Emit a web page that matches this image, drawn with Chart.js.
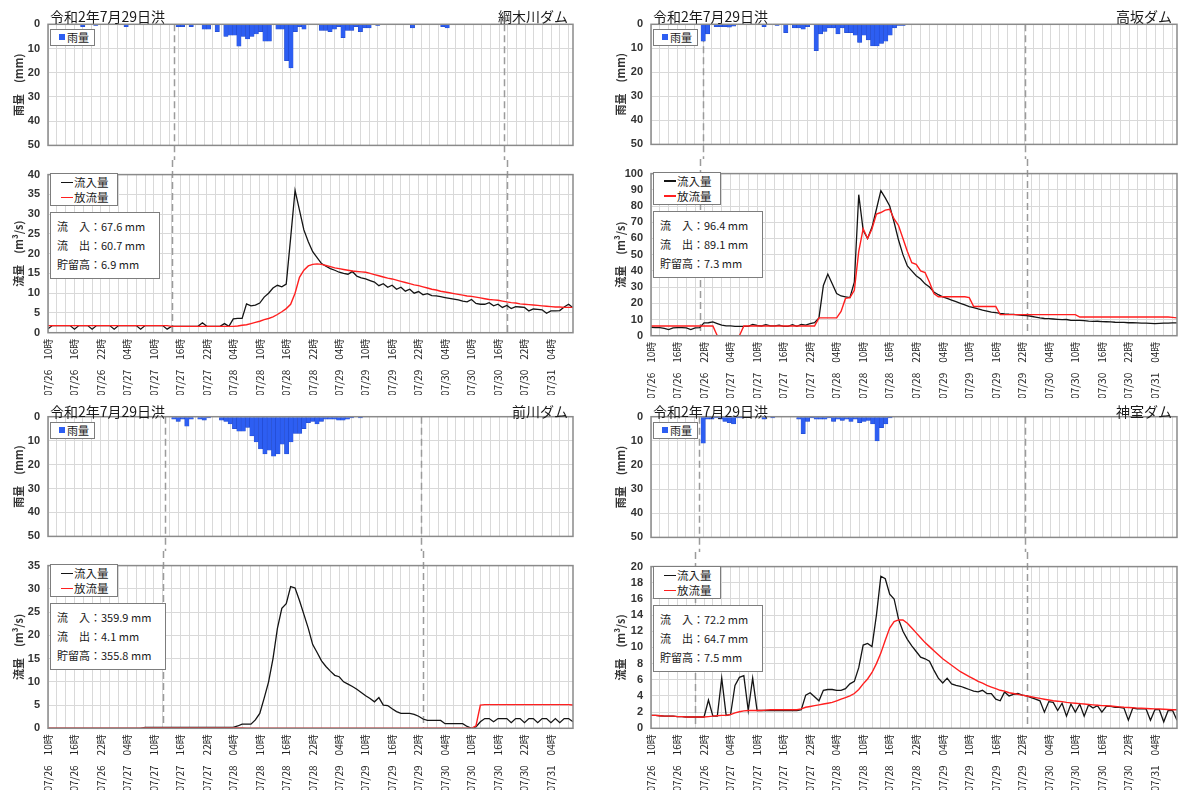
<!DOCTYPE html>
<html>
<head>
<meta charset="utf-8">
<script src="https://cdn.jsdelivr.net/npm/chart.js@4.4.1/dist/chart.umd.min.js"></script>
<style>
  body { margin: 0; width: 1203px; height: 791px; background: #fff; position: relative; overflow: hidden;
         font-family: 'Noto Sans CJK JP', sans-serif; color: #1a1a1a; }
  canvas { position: absolute; }
  .ttl { position: absolute; font-size: 14px; line-height: 14px; white-space: nowrap; z-index: 2; }
  .box { position: absolute; background: #fff; border: 1.5px solid #7d7d7d; box-sizing: border-box;
         white-space: nowrap; z-index: 2; font-size: 11px; line-height: 15px; }
  .sq { display: inline-block; width: 6px; height: 6px; background: #2d5ef2; margin-right: 2px; vertical-align: 2px; }
  .ln { display: inline-block; width: 12px; height: 1.5px; margin-right: 1px; vertical-align: 4px; }
  .stat { line-height: 19px; font-size: 11px; }
</style>
</head>
<body>
<script>
"use strict";

const HOURS = 120;   // 07/26 10時 .. 07/31 09時, hourly

const tickLabels = [
  '07/26　10時', '07/26　16時', '07/26　22時', '07/27　04時', '07/27　10時',
  '07/27　16時', '07/27　22時', '07/28　04時', '07/28　10時', '07/28　16時',
  '07/28　22時', '07/29　04時', '07/29　10時', '07/29　16時', '07/29　22時',
  '07/30　04時', '07/30　10時', '07/30　16時', '07/30　22時', '07/31　04時'
];

// 綱木川ダム
const rainTsunagi = [
  0, 0, 0, 0, 0, 0, 0, 1, 0, 0, 0.5, 0,
  0, 0, 0, 0, 0, 1, 0, 0, 0, 0, 0, 0,
  0, 0, 0, 0, 0, 1, 1, 0, 1, 0, 0, 2,
  2, 0, 3, 0, 5, 4.5, 4.5, 9, 5, 6, 5, 4,
  3, 7, 7, 0, 2, 2, 15, 18, 3, 1, 2, 0,
  0, 0, 2.5, 2.5, 3, 2, 1, 5.5, 2.5, 2.5, 1, 3,
  1.5, 1.5, 0, 0.5, 0, 0, 0, 0, 0, 0, 0, 1.5,
  0, 0, 0, 0, 0, 0, 1, 1.5, 0, 0, 0, 0,
  0, 0, 0, 0, 0, 0, 0, 0, 0, 0, 0, 0,
  0, 0, 0, 0, 0, 0, 0, 0, 0, 0, 0, 0
];
const inflowTsunagi = [
  1.0, 1.8, 1.8, 1.8, 1.8, 1.8, 0.9, 1.8, 1.8, 1.8, 0.9, 1.8,
  1.8, 1.8, 1.8, 0.9, 1.8, 1.8, 1.8, 1.8, 1.8, 0.9, 1.8, 1.8,
  1.8, 1.8, 1.8, 0.9, 1.6, 1.6, 1.6, 1.6, 1.6, 1.6, 1.6, 2.5,
  1.6, 1.6, 1.6, 1.6, 2.3, 1.6, 3.5, 3.6, 3.6, 7.3, 6.8, 7.0,
  7.5, 9.0, 10.0, 11.3, 12.0, 11.6, 12.3, 24, 36, 31, 26, 23,
  20.5, 19, 17.5, 16.8, 16.2, 15.8, 15.3, 15.0, 14.8, 15.5, 14.3, 13.9,
  13.6, 13.2, 12.8, 11.9, 12.4, 11.5, 12.0, 11.0, 11.5, 10.5, 11.0, 10.0,
  10.4, 9.6, 9.9, 9.4, 9.3, 9.1, 8.9, 8.7, 8.5, 8.3, 8.0, 7.8,
  8.4, 7.4, 7.2, 7.2, 7.6, 6.8, 7.2, 6.4, 6.9, 6.1, 6.6, 6.5,
  6.4, 5.5, 6.0, 5.9, 5.8, 4.9, 5.5, 5.5, 5.6, 6.5, 7.2, 6.3
];
const outflowTsunagi = [
  1.8, 1.8, 1.8, 1.8, 1.8, 1.8, 1.8, 1.8, 1.8, 1.8, 1.8, 1.8,
  1.8, 1.8, 1.8, 1.8, 1.8, 1.8, 1.8, 1.8, 1.8, 1.8, 1.8, 1.8,
  1.8, 1.8, 1.8, 1.8, 1.6, 1.6, 1.6, 1.6, 1.6, 1.6, 1.6, 1.6,
  1.6, 1.6, 1.6, 1.6, 1.6, 1.6, 1.6, 1.7, 1.9, 2.0, 2.3, 2.6,
  2.9, 3.3, 3.6, 4.0, 4.6, 5.3, 6.1, 7.2, 10, 14, 15.8, 16.9,
  17.3, 17.4, 17.3, 17.0, 16.7, 16.4, 16.2, 16.0, 15.8, 15.6, 15.5, 15.4,
  15.3, 15.0, 14.7, 14.4, 14.1, 13.8, 13.6, 13.3, 13.0, 12.7, 12.4, 12.1,
  11.9, 11.6, 11.3, 11.0, 10.8, 10.5, 10.3, 10.1, 9.9, 9.7, 9.5, 9.3,
  9.2, 9.0, 8.8, 8.6, 8.4, 8.3, 8.2, 8.0, 7.8, 7.6, 7.5, 7.3,
  7.2, 7.1, 7.0, 6.9, 6.8, 6.7, 6.6, 6.5, 6.5, 6.4, 6.4, 6.4
];
const totalsTsunagi = ['67.6', '60.7', '6.9'];
const marksTsunagi = [28, 104];

// 高坂ダム
const rainTakasaka = [
  0, 0, 0, 0, 0, 0, 0, 0, 0, 0, 0, 7,
  4, 0, 1, 1, 1, 1.2, 0.8, 0, 0, 0, 0, 0,
  0, 1, 0, 0, 0.5, 0, 3.5, 0, 1.5, 1.5, 2, 1,
  0, 11, 4, 3, 1.5, 1.5, 4, 1.5, 3.5, 3.5, 4.5, 7.5,
  4.5, 6.5, 9, 9, 8, 7, 4.5, 1.5, 0.5, 0.5, 0, 0,
  0, 0, 0, 0, 0, 0, 0, 0, 0, 0, 0, 0,
  0, 0, 0, 0, 0, 0, 0, 0, 0, 0, 0, 0,
  0, 0, 0, 0, 0, 0, 0, 0, 0, 0, 0, 0,
  0, 0, 0, 0, 0, 0, 0, 0, 0, 0, 0, 0,
  0, 0, 0, 0, 0, 0, 0, 0, 0, 0, 0, 0
];
const inflowTakasaka = [
  5.2, 5.0, 5.0, 4.5, 3.8, 4.8, 5.0, 5.0, 4.8, 3.8, 4.8, 5.0,
  7.9, 8.0, 8.5, 7.5, 6.5, 6.0, 6.0, 5.8, 5.8, 5.8, 5.8, 7.0,
  6.3, 6.0, 6.8, 6.0, 6.0, 6.5, 5.8, 5.8, 6.8, 5.8, 7.0, 6.5,
  7.5, 8.0, 11, 31, 38, 32, 26, 24.5, 24, 23.5, 33, 87,
  65, 60, 67, 78, 89.5, 85, 80, 70, 59, 50, 43, 40,
  37, 35, 32, 30, 27, 25.3, 24, 23, 22, 21, 20, 19,
  18, 17.3, 16.5, 15.8, 15.2, 14.6, 14.2, 13.8, 13.5, 13.3, 13.2, 12.9,
  12.6, 12.4, 12.0, 11.5, 11.0, 10.6, 10.5, 10.3, 10.1, 9.9, 10.0, 9.5,
  9.5, 9.4, 9.3, 9.0, 8.8, 8.9, 8.7, 8.6, 8.5, 8.3, 8.2, 8.2,
  8.0, 8.0, 7.9, 7.8, 7.7, 7.6, 7.5, 7.6, 7.7, 7.8, 7.9, 7.9
];
const outflowTakasaka = [
  6, 6, 6, 6, 6, 6, 6, 6, 6, 6, 6, 6,
  6, 6, 6, 0, 0, 0, 0, 0, 0, 6, 6, 6,
  6, 6, 6, 6, 6, 6, 6, 6, 6, 6, 6, 6,
  6, 6, 11, 11, 11, 11, 11, 15, 23, 23.5, 28, 52,
  66, 60, 66, 75, 76, 77.5, 78, 72, 68, 60, 52, 45,
  44, 40, 39, 33, 26, 24, 24, 24, 24, 24, 24, 24,
  23.5, 18, 18, 18, 18, 18, 18, 13, 13, 13, 13, 13,
  13, 13, 13, 13, 13, 13, 13, 13, 13, 13, 13, 13,
  13, 11.5, 11.5, 11.5, 11.5, 11.5, 11.5, 11.5, 11.5, 11.5, 11.5, 11.5,
  11.5, 11.5, 11.5, 11.5, 11.5, 11.5, 11.5, 11.5, 11.5, 11.5, 11.3, 11.0
];
const totalsTakasaka = ['96.4', '89.1', '7.3'];
const marksTakasaka = [11, 85];

// 前川ダム
const rainMaekawa = [
  0, 0, 0, 0, 0, 0, 0, 0, 0, 0, 0, 0,
  0, 0, 0, 0, 0, 0, 0, 0, 0, 0, 0, 0,
  0, 0, 0, 0, 1, 2, 1, 4, 1, 0, 1, 1.5,
  0.5, 0, 0, 1.5, 2, 3, 5, 6, 6, 4.5, 8, 10.5,
  13.5, 15.5, 14, 16.5, 15.5, 11.5, 15.5, 10.5, 7, 7, 5, 2.5,
  2, 3, 2, 1, 1, 1, 1.5, 1.5, 1, 0.5, 0, 0.5,
  0, 0, 0, 0, 0, 0, 0, 0, 0, 0, 0, 0,
  0, 0, 0, 0, 0, 0, 0, 0, 0, 0, 0, 0,
  0, 0, 0, 0, 0, 0, 0, 0, 0, 0, 0, 0,
  0, 0, 0, 0, 0, 0, 0, 0, 0, 0, 0, 0
];
const inflowMaekawa = [
  0, 0, 0, 0, 0, 0, 0, 0, 0, 0, 0, 0,
  0, 0, 0, 0, 0, 0, 0, 0, 0, 0, 0.2, 0.2,
  0.2, 0.2, 0.2, 0.2, 0.2, 0.2, 0.2, 0.2, 0.2, 0.2, 0.2, 0.2,
  0.2, 0.2, 0.2, 0.2, 0.2, 0.2, 0.2, 0.5, 0.9, 0.9, 0.9, 1.8,
  3.2, 6.5, 10, 15, 21.5, 25.8, 26.8, 30.5, 30.2, 27.5, 24.5, 21.5,
  18, 16.3, 14.5, 13.3, 12.3, 11.4, 11.1, 10, 9.5, 9, 8.4, 7.7,
  7.0, 6.4, 5.7, 6.6, 5.0, 4.9, 4.2, 3.6, 3.2, 3.2, 3.2, 3.0,
  2.6, 2.0, 1.7, 1.7, 1.7, 1.7, 1.0, 1.0, 1.0, 1.0, 1.0, 0.4,
  0, 0.3, 1.4, 2.1, 2.1, 1.4, 2.1, 2.1, 2.1, 1.2, 2.1, 2.1,
  1.2, 2.1, 2.1, 1.2, 2.1, 2.1, 1.2, 2.1, 1.2, 2.1, 2.1, 1.4
];
const outflowMaekawa = [
  0, 0, 0, 0, 0, 0, 0, 0, 0, 0, 0, 0,
  0, 0, 0, 0, 0, 0, 0, 0, 0, 0, 0.1, 0.1,
  0.1, 0.1, 0.1, 0.1, 0.1, 0.1, 0.1, 0.1, 0.1, 0.1, 0.1, 0.1,
  0.1, 0.1, 0.1, 0.1, 0.1, 0.1, 0.1, 0.1, 0.1, 0, 0, 0,
  0, 0, 0, 0, 0, 0, 0, 0, 0, 0, 0, 0,
  0, 0, 0, 0, 0, 0, 0, 0, 0, 0, 0, 0,
  0, 0, 0, 0, 0, 0, 0, 0, 0, 0, 0, 0,
  0, 0, 0, 0, 0, 0, 0, 0, 0, 0, 0, 0,
  0, 0.5, 5.0, 5.1, 5.1, 5.1, 5.1, 5.1, 5.1, 5.1, 5.1, 5.1,
  5.1, 5.1, 5.1, 5.1, 5.1, 5.1, 5.1, 5.1, 5.1, 5.1, 5.1, 5.0
];
const totalsMaekawa = ['359.9', '4.1', '355.8'];
const marksMaekawa = [26, 85];

// 神室ダム
const rainKamuro = [
  0, 0, 0, 0, 0, 0, 0, 0, 0, 0, 0, 11,
  1, 1, 0.5, 1, 2, 2.5, 3, 0.5, 0.5, 0, 0, 0,
  0, 1, 0, 0.5, 0, 0, 0, 0, 0, 1, 7, 2,
  0.5, 1, 1, 1, 0.5, 2, 1, 1.5, 1, 2, 1, 2.5,
  2, 1.5, 3, 10, 4.5, 3, 0.5, 0, 0, 0, 0, 0,
  0, 0, 0, 0, 0, 0, 0, 0, 0, 0, 0, 0,
  0, 0, 0, 0, 0, 0, 0, 0, 0, 0, 0, 0,
  0, 0, 0, 0, 0, 0, 0, 0, 0, 0, 0, 0,
  0, 0, 0, 0, 0, 0, 0, 0, 0, 0, 0, 0,
  0, 0, 0, 0, 0, 0, 0, 0, 0, 0, 0, 0
];
const inflowKamuro = [
  1.6, 1.6, 1.55, 1.5, 1.5, 1.5, 1.45, 1.45, 1.4, 1.4, 1.4, 1.4,
  1.4, 3.5, 1.5, 1.5, 6.2, 1.6, 1.7, 5.3, 6.3, 6.5, 2.2, 6.2,
  2.2, 2.2, 2.2, 2.2, 2.2, 2.2, 2.2, 2.2, 2.2, 2.2, 2.3, 4.1,
  4.4, 3.9, 3.4, 4.7, 4.8, 4.8, 4.7, 4.7, 4.9, 5.5, 5.8, 7.5,
  10.3, 10.5, 10.1, 14, 18.8, 18.5, 16.6, 16, 13.5, 12, 11, 10.2,
  9.5, 8.8, 8.6, 8.3, 7.2, 6.2, 5.6, 6.2, 5.5, 5.3, 5.2, 5.0,
  4.8, 4.6, 4.5, 4.7, 4.3, 4.3, 3.6, 3.4, 4.5, 4.0, 4.2, 4.3,
  4.1, 4.0, 3.8, 3.6, 3.4, 2.0, 3.3, 3.2, 2.2, 3.1, 1.5, 3.0,
  2.0, 3.0, 1.5, 2.9, 2.5, 2.8, 2.0, 2.7, 2.7, 2.6, 2.6, 2.5,
  1.0, 2.5, 2.4, 2.4, 2.4, 1.0, 2.3, 2.3, 0.8, 2.2, 2.2, 1.0
];
const outflowKamuro = [
  1.6, 1.6, 1.55, 1.5, 1.5, 1.5, 1.45, 1.45, 1.4, 1.4, 1.4, 1.4,
  1.4, 1.45, 1.5, 1.55, 1.6, 1.6, 1.7, 1.9, 2.05, 2.15, 2.2, 2.2,
  2.2, 2.2, 2.25, 2.3, 2.3, 2.3, 2.3, 2.3, 2.3, 2.3, 2.4, 2.6,
  2.7, 2.8, 2.9, 3.0, 3.1, 3.2, 3.4, 3.6, 3.8, 4.0, 4.3, 4.8,
  5.5, 6.1, 6.9, 8.0, 9.3, 10.9, 12.4, 13.2, 13.4, 13.4, 13.0, 12.4,
  11.8, 11.2, 10.6, 10.1, 9.6, 9.1, 8.6, 8.2, 7.8, 7.4, 7.0, 6.7,
  6.4, 6.1, 5.8, 5.6, 5.3, 5.1, 4.9, 4.7, 4.6, 4.4, 4.3, 4.2,
  4.1, 4.0, 3.9, 3.8, 3.7, 3.6, 3.5, 3.4, 3.35, 3.3, 3.2, 3.15,
  3.1, 3.05, 3.0, 2.95, 2.9, 2.85, 2.8, 2.78, 2.75, 2.7, 2.65, 2.6,
  2.58, 2.55, 2.5, 2.48, 2.45, 2.42, 2.4, 2.38, 2.35, 2.33, 2.3, 2.3
];
const totalsKamuro = ['72.2', '64.7', '7.5'];
const marksKamuro = [10, 85];

const EVENT = '令和2年7月29日洪';
const FONT = "'Noto Sans CJK JP', sans-serif";
const NUM_FONT = "'Liberation Sans', 'Noto Sans CJK JP', sans-serif";
const GRID = '#d9d9d9';

const panels = [
  { dam: '綱木川ダム', x: 0, y: 0, left: 48, right: 573, rainTop: 24.3, rainBottom: 151.7,
    flowTop: 168.3, flowBottom: 332.7, flowMax: 40, flowStep: 5,
    rain: rainTsunagi, inflow: inflowTsunagi, outflow: outflowTsunagi, totals: totalsTsunagi, marks: marksTsunagi },
  { dam: '高坂ダム', x: 602, y: 0, left: 651, right: 1177, rainTop: 24.3, rainBottom: 151.7,
    flowTop: 166.7, flowBottom: 335.7, flowMax: 100, flowStep: 10,
    rain: rainTakasaka, inflow: inflowTakasaka, outflow: outflowTakasaka, totals: totalsTakasaka, marks: marksTakasaka },
  { dam: '前川ダム', x: 0, y: 392, left: 48, right: 573, rainTop: 416.7, rainBottom: 542.7,
    flowTop: 559.3, flowBottom: 728.3, flowMax: 35, flowStep: 5,
    rain: rainMaekawa, inflow: inflowMaekawa, outflow: outflowMaekawa, totals: totalsMaekawa, marks: marksMaekawa },
  { dam: '神室ダム', x: 602, y: 392, left: 651, right: 1177, rainTop: 416.7, rainBottom: 542.7,
    flowTop: 561, flowBottom: 728.3, flowMax: 20, flowStep: 2,
    rain: rainKamuro, inflow: inflowKamuro, outflow: outflowKamuro, totals: totalsKamuro, marks: marksKamuro }
];

const gridHours = [];
for (let h = 0; h < HOURS; h += 2) gridHours.push(h);

// plot frame and the dashed flood-period markers
const framePlugin = {
  id: 'frame',
  beforeDatasetsDraw(chart, args, opts) {
    const { ctx, chartArea: a } = chart;
    const x = chart.scales.x;
    ctx.save();
    ctx.strokeStyle = '#9b9b9b';
    ctx.lineWidth = 1.5;
    ctx.setLineDash([7, 4]);
    opts.marks.forEach(h => {
      const px = Math.round(x.getPixelForValue(h)) + 0.5;
      ctx.beginPath();
      ctx.moveTo(px, opts.toEdge === 'top' ? 0 : a.top);
      ctx.lineTo(px, opts.toEdge === 'bottom' ? chart.height : a.bottom);
      ctx.stroke();
    });
    ctx.restore();
  },
  afterDraw(chart) {
    const { ctx, chartArea: a } = chart;
    ctx.save();
    ctx.strokeStyle = '#8a8a8a';
    ctx.lineWidth = 1.5;
    ctx.strokeRect(a.left, a.top, a.right - a.left, a.bottom - a.top);
    ctx.restore();
  }
};

function hourAxis(showLabels, height) {
  return {
    type: 'linear',
    min: 0,
    max: HOURS - 1,
    afterBuildTicks: s => { s.ticks = gridHours.map(v => ({ value: v })); },
    afterFit: s => { s.height = height; },
    grid: { color: GRID, drawTicks: false },
    border: { display: false },
    ticks: {
      display: showLabels,
      autoSkip: false,
      minRotation: 90,
      maxRotation: 90,
      padding: 6,
      color: '#222',
      font: { family: FONT, size: 10 },
      callback: v => (v % 6 === 0 ? tickLabels[v / 6] : '')
    }
  };
}

function valueAxis(opts) {
  return {
    min: 0,
    max: opts.max,
    reverse: !!opts.reverse,
    afterFit: s => { s.width = opts.width; },
    grid: { color: GRID, drawTicks: false },
    border: { display: false },
    ticks: { stepSize: opts.step, autoSkip: false, padding: 8, color: '#333',
             font: { family: NUM_FONT, size: 11, weight: 'bold' } },
    title: { display: true, text: opts.title, color: '#333', padding: { top: 12, bottom: 0 },
             font: { family: FONT, size: 11, weight: 'bold' } }
  };
}

function addCanvas(left, top, width, height) {
  const c = document.createElement('canvas');
  c.width = width;
  c.height = height;
  c.style.left = left + 'px';
  c.style.top = top + 'px';
  document.body.appendChild(c);
  return c;
}

function addDiv(cls, left, top, html, extra) {
  const d = document.createElement('div');
  d.className = cls;
  d.style.left = left + 'px';
  d.style.top = top + 'px';
  if (extra) Object.assign(d.style, extra);
  d.innerHTML = html;
  document.body.appendChild(d);
  return d;
}

const points = arr => arr.map((v, i) => ({ x: i, y: v }));

function drawPanel(p) {
  const W = 600;
  const mid = Math.round((p.rainBottom + p.flowTop) / 2);
  const yWidth = p.left - p.x;
  const padRight = p.x + W - p.right;

  // rainfall, hanging from the top
  new Chart(addCanvas(p.x, p.y, W, mid - p.y), {
    type: 'bar',
    data: {
      datasets: [{
        label: '雨量',
        data: p.rain.map((v, i) => ({ x: i, y: v > 0 ? v : null })),
        backgroundColor: '#2d5ef2',
        borderColor: '#1f45c4',
        borderWidth: 0.5,
        barPercentage: 1,
        categoryPercentage: 1
      }]
    },
    options: {
      responsive: false,
      animation: false,
      layout: { padding: { top: p.rainTop - p.y, bottom: mid - p.rainBottom, left: 0, right: padRight } },
      scales: {
        x: hourAxis(false, 0),
        y: valueAxis({ max: 50, step: 10, reverse: true, width: yWidth, title: '雨量　(mm)' })
      },
      plugins: { legend: { display: false }, tooltip: { enabled: false },
                 frame: { marks: p.marks, toEdge: 'bottom' } }
    },
    plugins: [framePlugin]
  });

  // inflow / outflow
  const labelsH = 62;
  const flowH = Math.round(p.flowBottom - mid + labelsH);
  new Chart(addCanvas(p.x, mid, W, flowH), {
    type: 'line',
    data: {
      datasets: [
        { label: '放流量', data: points(p.outflow), borderColor: '#ff1f1f', borderWidth: 1.4,
          pointRadius: 0, tension: 0 },
        { label: '流入量', data: points(p.inflow), borderColor: '#141414', borderWidth: 1.3,
          pointRadius: 0, tension: 0 }
      ]
    },
    options: {
      responsive: false,
      animation: false,
      layout: { padding: { top: p.flowTop - mid, bottom: 0, left: 0, right: padRight } },
      scales: {
        x: hourAxis(true, flowH - (p.flowBottom - mid)),
        y: valueAxis({ max: p.flowMax, step: p.flowStep, width: yWidth, title: '流量　(m³/s)' })
      },
      plugins: { legend: { display: false }, tooltip: { enabled: false },
                 frame: { marks: p.marks, toEdge: 'top' } }
    },
    plugins: [framePlugin]
  });

  // headings
  addDiv('ttl', p.left + 2, p.y + (p.y ? 12 : 9), EVENT);
  addDiv('ttl', 0, p.y + (p.y ? 12 : 9), p.dam, { left: 'auto', right: (1203 - p.right + 5) + 'px' });

  // legend boxes
  addDiv('box', p.left + 2, p.rainTop + 5, '<i class="sq"></i>雨量',
         { padding: '0 5px 0 8px', height: '17px' });
  addDiv('box', p.left + 2, p.flowTop + 5,
         '<div><i class="ln" style="background:#141414"></i>流入量</div>' +
         '<div><i class="ln" style="background:#ff1f1f"></i>放流量</div>',
         { padding: '1px 8px 0 10px', height: '33px', fontSize: '11.5px' });
  const t = p.totals;
  addDiv('box', p.left + 2, p.flowTop + 44,
         `<div class="stat">流　入：${t[0]} mm</div><div class="stat">流　出：${t[1]} mm</div>` +
         `<div class="stat">貯留高：${t[2]} mm</div>`,
         { padding: '4px 14px 4px 6px' });
}

panels.forEach(drawPanel);
</script>
</body>
</html>
